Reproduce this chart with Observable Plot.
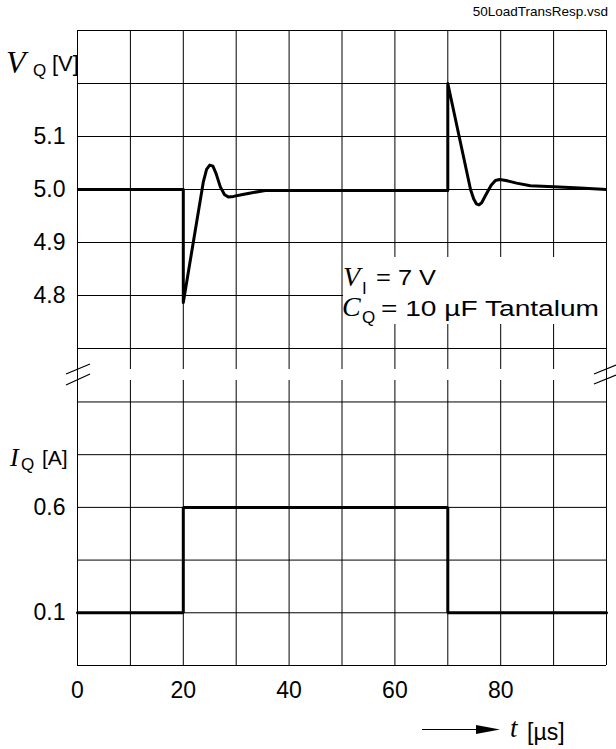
<!DOCTYPE html>
<html><head><meta charset="utf-8">
<script src="https://cdn.jsdelivr.net/npm/d3@7"></script>
<script src="https://cdn.jsdelivr.net/npm/@observablehq/plot@0.6"></script>
<style>
body{margin:0;background:#fff;}
#wrap{position:relative;width:616px;height:749px;overflow:hidden;background:#fff;}
#wrap > svg{position:absolute;left:0;}
</style></head><body><div id="wrap"></div>
<script>
// ---- data ----
const timeV = [0, 20, 20, 22, 23.8, 24.4, 25, 25.6, 26.2, 27, 27.8, 28.5, 29.5, 31, 33, 35.5, 40, 50, 60, 70,
               70, 74.3, 74.9, 75.4, 75.9, 76.4, 77.2, 78.2, 79, 79.8, 81, 83, 85.6, 90, 95, 100];
const voltV = [5.0, 5.0, 4.787, 4.907, 5.015, 5.038, 5.046, 5.044, 5.03, 5.005, 4.99, 4.986, 4.987, 4.99, 4.994, 4.998, 4.998, 4.998, 4.998, 4.998,
               5.2, 5.0, 4.982, 4.973, 4.971, 4.975, 4.99, 5.008, 5.017, 5.019, 5.017, 5.012, 5.007, 5.005, 5.003, 5.0];
const timeI = [0, 20, 70, 100];
const currI = [0.1, 0.6, 0.1, 0.1];

const xGrid = [10, 20, 30, 40, 50, 60, 70, 80, 90];
const xTicks = [0, 20, 40, 60, 80];
const vGrid = [5.3, 5.2, 5.1, 5.0, 4.9, 4.8, 4.7];
const vTicks = [5.1, 5.0, 4.9, 4.8];
const iGrid = [1.1, 0.85, 0.6, 0.35, 0.1, -0.15];
const iTicks = [0.6, 0.1];

const vData = timeV.map((t, k) => ({t, v: voltV[k]}));
const iData = timeI.map((t, k) => ({t, i: currI[k]}));

const sans = "'Liberation Sans', Arial, Helvetica, sans-serif";
const serif = "'Liberation Serif', 'Times New Roman', serif";
const baseStyle = {fontFamily: sans, fontSize: "23px", color: "#000", background: "transparent", overflow: "visible"};

const vDomain = [4.6604, 5.3];
const topPlot = Plot.plot({
  width: 616, height: 369, marginTop: 30, marginBottom: 0, marginLeft: 77, marginRight: 10,
  x: {domain: [0, 100], axis: null, label: null},
  y: {domain: vDomain, label: null},
  style: baseStyle,
  marks: [
    Plot.ruleY(vGrid, {x1: 0, x2: 100, stroke: "#000", strokeWidth: 1}),
    Plot.ruleX(xGrid, {y1: vDomain[0], y2: vDomain[1], stroke: "#000", strokeWidth: 1}),
    Plot.ruleX([0, 100], {y1: vDomain[0], y2: vDomain[1], stroke: "#000", strokeWidth: 1}),
    Plot.line(vData, {x: "t", y: "v", stroke: "#000", strokeWidth: 3, strokeLinejoin: "round", strokeLinecap: "butt"}),
    Plot.axisY(vTicks, {tickSize: 0, tickPadding: 12, tickFormat: d => d.toFixed(1), fontSize: 23, label: null})
  ]
});

const iDomain = [-0.15, 1.254];
const botPlot = Plot.plot({
  width: 616, height: 380, marginTop: 0, marginBottom: 84, marginLeft: 77, marginRight: 10,
  x: {domain: [0, 100], label: null},
  y: {domain: iDomain, label: null},
  style: baseStyle,
  marks: [
    Plot.ruleY(iGrid, {x1: 0, x2: 100, stroke: "#000", strokeWidth: 1}),
    Plot.ruleX(xGrid, {y1: -0.15, y2: 1.202, stroke: "#000", strokeWidth: 1}),
    Plot.ruleX([0, 100], {y1: -0.15, y2: iDomain[1], stroke: "#000", strokeWidth: 1}),
    Plot.line(iData, {x: "t", y: "i", curve: "step-after", stroke: "#000", strokeWidth: 3, strokeLinejoin: "miter"}),
    Plot.axisY(iTicks, {tickSize: 0, tickPadding: 12, tickFormat: d => d.toFixed(1), fontSize: 23, label: null}),
    Plot.axisX(xTicks, {tickSize: 0, tickPadding: 16, fontSize: 23, label: null})
  ]
});

const wrap = document.getElementById("wrap");
topPlot.style.top = "0px";
botPlot.style.top = "369px";
wrap.appendChild(topPlot);
wrap.appendChild(botPlot);

// ---- annotation overlay ----
const ov = d3.create("svg").attr("width", 616).attr("height", 749).attr("viewBox", "0 0 616 749")
  .style("top", "0px").style("font-family", sans).attr("fill", "#000");

// white box behind the condition text
ov.append("rect").attr("x", 343).attr("y", 257).attr("width", 263).attr("height", 67).attr("fill", "#fff");

function txt(x, y, s, size, opts = {}) {
  const t = ov.append("text").attr("x", x).attr("y", y).attr("font-size", size).text(s);
  if (opts.serif) t.attr("font-family", serif).attr("font-style", "italic");
  if (opts.anchor) t.attr("text-anchor", opts.anchor);
  if (opts.len) t.attr("textLength", opts.len).attr("lengthAdjust", "spacingAndGlyphs");
  return t;
}

txt(608, 16, "50LoadTransResp.vsd", 13.5, {anchor: "end"});

// V_Q [V]
txt(6, 73, "V", 32, {serif: true});
txt(33, 76, "Q", 17);
txt(52, 71, "[V]", 22);

// I_Q [A]
txt(10, 466, "I", 26, {serif: true});
txt(21, 470, "Q", 17);
txt(42, 465, "[A]", 21);

// conditions
txt(343, 286, "V", 28, {serif: true});
txt(362, 294, "I", 17);
txt(376, 285, "= 7 V", 22, {len: 60});
txt(342, 316, "C", 28, {serif: true});
txt(362, 323, "Q", 17);
txt(381, 316, "= 10 µF Tantalum", 22, {len: 218});

// time axis arrow and label
ov.append("line").attr("x1", 422).attr("x2", 478).attr("y1", 729.5).attr("y2", 729.5).attr("stroke", "#000").attr("stroke-width", 1.2);
ov.append("polygon").attr("points", "476,725 500,729.5 476,734").attr("fill", "#000");
txt(510, 736.5, "t", 27, {serif: true});
txt(527, 740, "[µs]", 23);

// axis break marks
const slashes = [[66, 374, 90, 364], [66, 385, 90, 374], [594, 374, 616, 365], [594, 384, 616, 375]];
slashes.forEach(([a, b, c, d]) => ov.append("line").attr("x1", a).attr("y1", b).attr("x2", c).attr("y2", d)
  .attr("stroke", "#000").attr("stroke-width", 1.2));

wrap.appendChild(ov.node());
</script></body></html>
